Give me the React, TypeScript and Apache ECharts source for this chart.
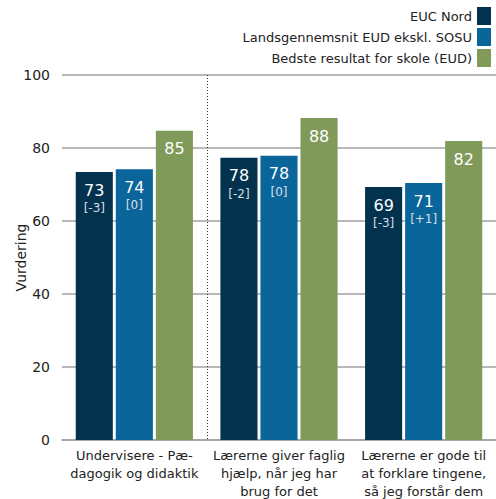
import React, { useEffect, useRef } from "react";
import * as echarts from "echarts";

const categories = [
  "Undervisere - Pæ-\ndagogik og didaktik",
  "Lærerne giver faglig\nhjælp, når jeg har\nbrug for det",
  "Lærerne er gode til\nat forklare tingene,\nså jeg forstår dem",
];
const seriesNames = [
  "EUC Nord",
  "Landsgennemsnit EUD ekskl. SOSU",
  "Bedste resultat for skole (EUD)",
];
const eucNord = [73.4, 77.3, 69.3];
const landsgennemsnit = [74.2, 77.9, 70.4];
const bedste = [84.7, 88.2, 81.9];
const eucNordLabels = ["73", "78", "69"];
const landsLabels = ["74", "78", "71"];
const bedsteLabels = ["85", "88", "82"];
const eucNordDelta = ["[-3]", "[-2]", "[-3]"];
const landsDelta = ["[0]", "[0]", "[+1]"];

const colors = ["#03324F", "#09659A", "#7F9A59"];
const FONT = "DejaVu Sans";

export default function App() {
  const ref = useRef<HTMLDivElement>(null);
  useEffect(() => {
    if (!ref.current) return;
    const chart = echarts.init(ref.current, null, { renderer: "svg" });
    const mkLabel = (vals: string[], deltas: string[] | null) => ({
      show: true,
      position: "insideTop",
      distance: 8,
      fontFamily: FONT,
      formatter: (p: any) => {
        const v = vals[p.dataIndex];
        return deltas ? `{v|${v}}\n{d|${deltas[p.dataIndex]}}` : `{v|${v}}`;
      },
      rich: {
        v: { color: "#FFFFFF", fontSize: 16, fontFamily: FONT, lineHeight: 20, align: "center" },
        d: { color: "#D8DEE6", fontSize: 12, fontFamily: FONT, lineHeight: 16, align: "center" },
      },
    });
    chart.setOption({
      animation: false,
      color: colors,
      textStyle: { fontFamily: FONT },
      legend: {
        orient: "vertical",
        right: 0,
        top: 2,
        align: "right",
        itemWidth: 14,
        itemHeight: 18,
        itemGap: 3,
        icon: "rect",
        textStyle: { fontSize: 13, color: "#222", fontFamily: FONT },
        data: seriesNames,
      },
      grid: { left: 62, right: 0, top: 75, bottom: 59, containLabel: false, outerBoundsMode: "none" },
      xAxis: {
        type: "category",
        data: categories,
        axisTick: { show: false },
        axisLine: { show: true, lineStyle: { color: "#A0A0A0", width: 1.5 } },
        axisLabel: { color: "#222", fontSize: 13, lineHeight: 18, fontFamily: FONT, margin: 6, interval: 0 },
        splitLine: { show: false },
      },
      yAxis: {
        type: "value",
        min: 0,
        max: 100,
        interval: 20,
        name: "Vurdering",
        nameLocation: "middle",
        nameGap: 34,
        nameMoveOverlap: false,
        nameTextStyle: { color: "#222", fontSize: 14, fontFamily: FONT },
        axisLabel: { color: "#222", fontSize: 14, fontFamily: FONT, margin: 12 },
        axisLine: { show: false },
        axisTick: { show: false },
        splitLine: { show: true, lineStyle: { color: "#A0A0A0", width: 1.5, type: "solid" } },
      },
      series: [
        { name: seriesNames[0], type: "bar", data: eucNord, barGap: "8%", barCategoryGap: "19%", label: mkLabel(eucNordLabels, eucNordDelta) },
        { name: seriesNames[1], type: "bar", data: landsgennemsnit, barGap: "8%", barCategoryGap: "19%", label: mkLabel(landsLabels, landsDelta) },
        { name: seriesNames[2], type: "bar", data: bedste, barGap: "8%", barCategoryGap: "19%", label: mkLabel(bedsteLabels, null) },
      ],
    });
    const x0 = chart.convertToPixel({ xAxisIndex: 0 }, 0) as number;
    const x1 = chart.convertToPixel({ xAxisIndex: 0 }, 1) as number;
    const yTop = chart.convertToPixel({ yAxisIndex: 0 }, 100) as number;
    const yBot = chart.convertToPixel({ yAxisIndex: 0 }, 0) as number;
    const sx = Math.round((x0 + x1) / 2) + 0.5;
    chart.setOption({
      graphic: [
        {
          type: "line",
          shape: { x1: sx, y1: yTop, x2: sx, y2: yBot },
          style: { stroke: "#333", lineWidth: 1, lineDash: [1, 2] },
          z: 1,
        },
      ],
    });
    return () => chart.dispose();
  }, []);
  return <div ref={ref} style={{ width: 496, height: 499, position: "absolute", left: 0, top: 0 }} />;
}
